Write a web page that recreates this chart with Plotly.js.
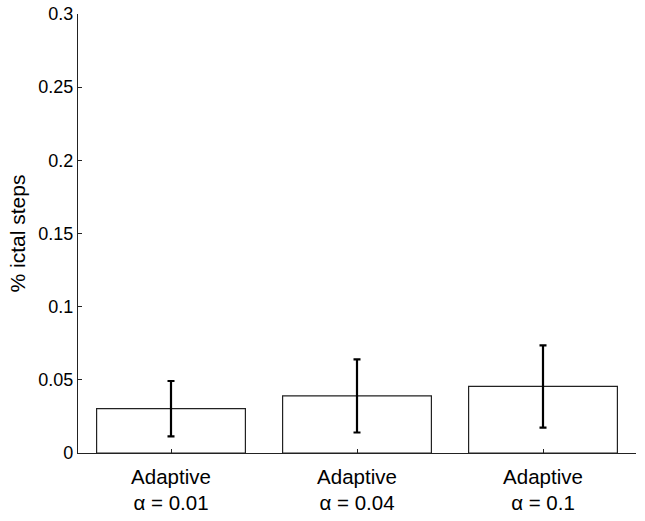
<!DOCTYPE html>
<html>
<head>
<meta charset="utf-8">
<script src="https://cdn.plot.ly/plotly-3.0.1.min.js"></script>
<style>html,body{margin:0;padding:0;background:#fff;}#chart{width:645px;height:521px;}</style>
</head>
<body>
<div id="chart"></div>
<script>
const methods = ["Adaptive", "Adaptive", "Adaptive"];
const alphas = ["0.01", "0.04", "0.1"];
const values = [0.0303, 0.0390, 0.0455];
const errors = [0.0189, 0.0250, 0.0281];
const yTicks = [0, 0.05, 0.1, 0.15, 0.2, 0.25, 0.3];
const yTickText = ["0", "0.05", "0.1", "0.15", "0.2", "0.25", "0.3"];

const xs = values.map((_, i) => i);
const tickText = methods.map((m, i) => m + "<br>α = " + alphas[i]);

const font = "Liberation Sans, Arial, Helvetica, sans-serif";

Plotly.newPlot("chart", [{
  type: "bar",
  x: xs,
  y: values,
  width: 0.8,
  marker: {color: "#ffffff", line: {color: "#222222", width: 1.2}},
  error_y: {type: "data", array: errors, visible: true, color: "#000000", thickness: 2.2, width: 3.5},
  hoverinfo: "none"
}], {
  width: 645, height: 521,
  margin: {l: 78, r: 9, t: 14, b: 68},
  paper_bgcolor: "#ffffff", plot_bgcolor: "#ffffff",
  showlegend: false,
  font: {family: font, color: "#000000"},
  xaxis: {
    range: [-0.5, 2.5],
    tickvals: xs, ticktext: tickText,
    ticks: "inside", ticklen: 4, tickcolor: "#222222", tickwidth: 1,
    showline: true, linecolor: "#222222", linewidth: 1.2,
    showgrid: false, zeroline: false,
    ticklabelstandoff: 5,
    tickfont: {family: font, size: 20.5, color: "#000000"}
  },
  yaxis: {
    range: [0, 0.3],
    tickvals: yTicks, ticktext: yTickText,
    ticks: "inside", ticklen: 4, tickcolor: "#222222", tickwidth: 1,
    showline: true, linecolor: "#222222", linewidth: 1.2,
    showgrid: false, zeroline: false,
    tickfont: {family: font, size: 18, color: "#000000"},
    title: {text: "% ictal steps", font: {family: font, size: 21, color: "#000000"}, standoff: 6}
  }
}, {displayModeBar: false, staticPlot: true});
</script>
</body>
</html>
